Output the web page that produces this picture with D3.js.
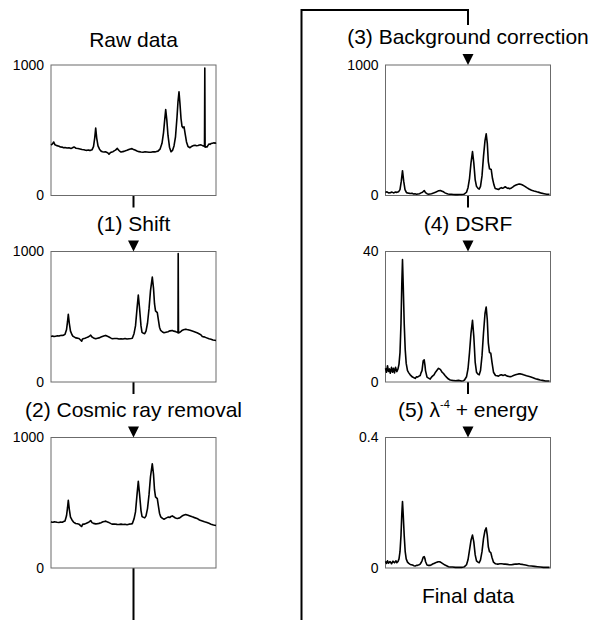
<!DOCTYPE html>
<html>
<head>
<meta charset="utf-8">
<script src="https://cdn.jsdelivr.net/npm/d3@7"></script>
<style>
  body { margin: 0; background: #fff; }
  svg { display: block; font-family: "Liberation Sans", Arial, sans-serif; }
</style>
</head>
<body>
<svg width="592" height="620"></svg>
<script>
// spectra, [channel, intensity]
let raw = [[0,387],[1.5,395],[2.7,410],[4,388],[6,382],[8,378],[9.5,372],[11,371],[12.5,366],[14,368],[16,364],[18,366],[20,361],[21,364],[23,372],[25,362],[27,360],[29,357],[31,353],[33,350],[34.5,347],[36,346],[37.5,349],[39,344],[41,350],[42.5,375],[43.7,440],[44.7,517],[45.7,440],[47,380],[48.5,355],[50,340],[51.5,336],[53,333],[54.5,335],[56,330],[57,325],[58,316],[59.5,330],[61,334],[62,336],[63.5,344],[64.5,348],[66.3,361],[68,345],[69,338],[70,333],[71.5,336],[73,338],[74.5,343],[76,346],[78.5,355],[81,359],[82.5,352],[84,348],[86,341],[88,336],[90,333],[92,332],[94,335],[96,333],[98,331],[100,332],[102,335],[104,334],[105.5,337],[107,340],[109,355],[111,400],[112.5,480],[113.7,580],[114.7,659],[115.8,580],[117,460],[118.5,370],[120,335],[121.5,345],[123,380],[124.5,450],[126,600],[127,720],[128,794],[129,700],[130,590],[131,530],[132,520],[133,527],[134,480],[135.5,410],[137,375],[139,366],[141,378],[142.5,383],[144,385],[145.5,381],[147,383],[148.5,387],[150,388],[152,380],[153.5,378],[153.8,977],[154.1,370],[155,374],[156,372],[157,384],[158,395],[159,392],[160,398],[161.5,401],[163,404],[164,400],[165,406]];

let shifted = [[0,349],[1.5,352],[3,348],[4.7,351],[6.5,354],[8,352],[9.5,356],[11.3,357],[12.7,359],[14,365],[15.5,400],[16.5,460],[17.3,519],[18.3,450],[19.5,390],[21,362],[22,350],[23.5,344],[24.7,338],[26.5,336],[28,333],[29.5,322],[30.7,313],[31.5,330],[33,333],[34,335],[35.5,340],[37,345],[38.5,352],[39.7,359],[41,345],[42.5,338],[44.7,331],[46.5,335],[48,338],[50,344],[52,350],[53.5,354],[54.7,357],[56.5,350],[58,345],[60,336],[61.3,331],[63.5,333],[66,333],[68,329],[70,332],[72,330],[74,333],[76,329],[78,331],[80,333],[81.3,335],[83,370],[84.5,430],[86,560],[87.3,667],[88.5,570],[90,430],[91,380],[92.5,373],[93.7,370],[95,390],[96.5,450],[98,560],[99.5,700],[101.3,804],[102.5,720],[103.5,600],[104.5,545],[106.3,532],[107.5,470],[108.5,420],[109.7,395],[111.5,383],[113,377],[115,381],[117,385],[119,392],[121.3,395],[122.5,390],[124,388],[125.3,384],[126.3,380],[127,378],[127.2,984],[127.5,375],[128.7,380],[130,388],[131,395],[132.5,400],[134.7,405],[136,402],[137,400],[139,396],[141.3,390],[144,383],[146,378],[148,370],[150,361],[151.3,349],[153,346],[155,340],[158,331],[160,328],[162,322],[163.5,320],[165,318]];

let noCosmic = [[0,354],[1,351],[2,350],[3.5,354],[4.7,353],[6,350],[8,349],[9.5,352],[11.3,351],[12.7,356],[14,360],[15.5,400],[16.5,460],[17.3,519],[18.3,450],[19.5,390],[21,368],[22.5,352],[24.7,341],[26.5,339],[28,336],[29.5,325],[30.7,318],[31.5,334],[33,336],[34,338],[35.5,343],[37,348],[38.5,356],[39.7,364],[41,348],[42.5,342],[44.7,338],[46.5,340],[48,342],[50,347],[52,354],[53.5,357],[54.7,359],[56.5,352],[58,348],[60,340],[61.3,336],[63.5,337],[66,334],[68,333],[70,336],[72,333],[74,335],[76,332],[78,336],[80,337],[81.3,340],[83,375],[84.5,430],[86,560],[87.3,664],[88.5,570],[90,440],[91,395],[92.5,388],[93.7,384],[95,400],[96.5,455],[98,560],[99.5,700],[101.3,799],[102.5,720],[103.5,600],[104.5,545],[106.3,532],[107.5,470],[108.5,420],[109.7,392],[111.5,380],[113,374],[115,382],[117,390],[119,388],[120,395],[121.3,399],[122.5,393],[124,385],[125.3,381],[126.3,379],[127.5,382],[128.7,384],[130,392],[131,398],[132.5,404],[134.7,410],[136,406],[137,405],[139,399],[141.3,392],[143.5,386],[146,380],[148.5,368],[151.3,360],[153.5,354],[156,348],[158,342],[160,336],[162.5,330],[165,326]];

let background = [[0,23],[1.5,28],[3,20],[5,22],[6.5,26],[8,20],[10,26],[11.5,24],[13,28],[14.5,45],[15.8,110],[17,190],[18.2,110],[19.5,45],[21,22],[23,18],[24.7,15],[26.5,17],[28,12],[29.5,13],[31,10],[32.5,12],[34,14],[35.5,20],[37,25],[38.7,38],[40,22],[41.5,14],[43,10],[44.5,12],[46,14],[48,19],[50,25],[51.5,30],[53,36],[55,38],[56.5,33],[58,28],[59.5,20],[61,15],[62.5,12],[64,10],[66,9],[68,8],[70,7],[72,7],[74,8],[76,8],[78,9],[79,12],[81,25],[82.5,60],[84,130],[85.5,250],[87,336],[88.3,250],[89.7,120],[91,70],[92.5,55],[93.7,49],[95,70],[96.5,150],[98,300],[99.5,420],[100.7,472],[101.8,400],[102.8,260],[104,205],[105.7,200],[107,130],[108.5,80],[109.7,54],[111.5,50],[113,46],[114.5,55],[116,60],[117,56],[118,58],[119,63],[119.7,67],[121,60],[122,55],[123,57],[124,52],[125.3,56],[126.3,60],[127.5,66],[129,75],[130.5,80],[132,85],[133.5,88],[134.7,87],[136,84],[137,80],[139,72],[141.3,60],[143.5,50],[146,40],[148.5,34],[151.3,28],[153.5,24],[156,18],[158.5,14],[161.3,10],[164,10]];

let dsrf = [[0,4.2],[1,3.0],[2,5.0],[3,3.2],[4,4.0],[4.7,2.7],[5.5,3.5],[6,4.5],[7,3.0],[8,4.2],[9,2.8],[10,4.5],[11.3,3.2],[12.5,4.0],[13.5,5.5],[14.5,9],[15.5,18],[16.3,30],[17,37.5],[17.7,30],[18.7,18],[19.7,10],[20.7,5.7],[22,3.5],[23.3,2.8],[24.7,2.2],[26,1.8],[27,1.5],[28.5,1.3],[29.7,1.1],[31,1.6],[32,1.5],[33.5,1.8],[34.7,2.0],[35.5,2.8],[36.5,3.5],[37.7,6.5],[38.7,6.8],[39.5,5.0],[40,3.5],[41.5,1.5],[43,1.2],[44.7,0.9],[46,1.5],[47,1.8],[48.5,2.2],[50,3.0],[51.5,3.6],[53,4.2],[54,4.0],[55,3.8],[56.5,3.0],[58,2.6],[59.5,2.0],[61,1.5],[63,0.9],[64.7,0.6],[67,0.5],[70,0.4],[73,0.5],[76,0.3],[78,0.4],[79,0.6],[81,1.6],[82.5,4],[84,9],[85.5,15],[87,18.9],[88.3,14],[89.7,6],[91,3],[92.5,2.4],[93.7,2.2],[95,3.5],[96.5,8],[98,15],[99.5,21],[100.7,23],[101.8,19],[102.8,12],[104,9],[105.3,8.8],[106.5,6],[108,3],[110,2.0],[111.5,1.9],[113,1.8],[114.5,2.1],[116,2.2],[117.5,2.0],[119.7,2.2],[121,1.9],[122,1.8],[123.5,1.7],[124.7,1.6],[126.5,1.8],[128,2.0],[130,2.2],[132,2.4],[133.5,2.5],[134.7,2.5],[136.5,2.4],[138,2.2],[141,1.9],[144.7,1.6],[147.5,1.3],[150,1.0],[152.5,0.8],[154.7,0.6],[157,0.5],[160,0.3],[162,0.3],[164,0.3]];

let finalData = [[0,0.020],[1,0.014],[2,0.022],[3,0.015],[4.5,0.020],[5.2,0.017],[6,0.013],[7.5,0.021],[8.3,0.018],[9,0.016],[10.5,0.022],[11.3,0.016],[12.5,0.020],[13.5,0.028],[14.5,0.050],[15.5,0.100],[16.3,0.165],[17,0.204],[17.7,0.165],[18.7,0.100],[19.7,0.050],[20.7,0.028],[22,0.018],[23.3,0.014],[24.7,0.011],[26,0.010],[27,0.009],[28.5,0.007],[29.7,0.006],[31,0.008],[32,0.008],[33.5,0.010],[34.7,0.012],[35.5,0.016],[36.5,0.022],[37.7,0.033],[38.7,0.035],[39.5,0.028],[40,0.020],[41.5,0.009],[43,0.008],[44.7,0.008],[46,0.010],[47,0.012],[48.5,0.014],[50,0.016],[51.5,0.018],[53,0.019],[54,0.019],[55,0.018],[56.5,0.015],[58,0.012],[59.5,0.009],[61,0.007],[63,0.004],[64.7,0.003],[67,0.003],[70,0.002],[73,0.002],[76,0.002],[78,0.003],[79,0.004],[81,0.010],[82.5,0.025],[84,0.055],[85.5,0.085],[87,0.101],[88.3,0.080],[89.7,0.040],[91,0.022],[92.5,0.018],[93.7,0.016],[95,0.025],[96.5,0.050],[98,0.090],[99.5,0.115],[100.7,0.123],[101.8,0.100],[102.8,0.065],[104,0.050],[105.3,0.047],[106.5,0.032],[108,0.018],[110,0.013],[111.5,0.012],[113,0.012],[114.5,0.013],[116,0.013],[118,0.012],[119.7,0.012],[122,0.011],[124,0.010],[126,0.010],[128,0.011],[130,0.012],[132,0.012],[133.5,0.013],[134.7,0.012],[137,0.011],[140,0.009],[143,0.007],[146,0.006],[149,0.005],[152,0.004],[155,0.003],[158,0.002],[161,0.002],[164,0.002]];

let spectra = [raw, shifted, noCosmic, background, dsrf, finalData];
let titles = ["Raw data", "(1) Shift", "(2) Cosmic ray removal", "(3) Background correction", "(4) DSRF", "(5) λ + energy"];
let yMax = [1000, 1000, 1000, 1000, 40, 0.4];

let $svg = d3.select("svg");

let w = 165, h = 130.5;
let colX = [51, 385.5];
let rowY = [65, 251.5, 437.5];

// one panel per spectrum: left column top-down, then right column top-down
let panels = spectra.map((d, i) => ({
    data: d,
    title: titles[i],
    max: yMax[i],
    left: colX[Math.floor(i / 3)],
    top: rowY[i % 3]
}));

let flow = $svg.append("g")
    .attr("fill", "none")
    .attr("stroke", "#000")
    .attr("stroke-width", 2);

panels.forEach(function(p, i) {
    let cx = p.left + w / 2;

    let x = d3.scaleLinear()
        .domain([0, 165])
        .range([p.left, p.left + w]);

    let y = d3.scaleLinear()
        .domain([0, p.max])
        .range([p.top + h, p.top]);

    let g = $svg.append("g");

    g.append("rect")
        .attr("x", p.left)
        .attr("y", p.top)
        .attr("width", w)
        .attr("height", h)
        .attr("fill", "none")
        .attr("stroke", "#6b6b6b")
        .attr("stroke-width", 1);

    let line = d3.line()
        .x(d => x(d[0]))
        .y(d => y(d[1]));

    g.append("path")
        .datum(p.data)
        .attr("d", line)
        .attr("fill", "none")
        .attr("stroke", "#000")
        .attr("stroke-width", 1.6)
        .attr("stroke-linejoin", "round");

    let axis = d3.axisLeft(y)
        .tickValues([0, p.max])
        .tickSize(0)
        .tickPadding(7)
        .tickFormat(d => String(d));

    g.append("g")
        .attr("transform", "translate(" + p.left + ",0)")
        .call(axis)
        .call(a => a.select(".domain").remove())
        .selectAll("text")
        .attr("font-size", 14)
        .attr("font-family", "Liberation Sans, Arial, sans-serif")
        .attr("fill", "#000");

    // step title (raw data sits a bit lower)
    let t = $svg.append("text")
        .attr("x", cx)
        .attr("y", p.top - (i == 0 ? 18 : 21))
        .attr("text-anchor", "middle")
        .attr("font-size", 21)
        .attr("fill", "#000");

    if (i == 5) {
        t.append("tspan").text("(5) λ");
        t.append("tspan").attr("font-size", 11).attr("dy", -9).text("-4");
        t.append("tspan").attr("dy", 9).text(" + energy");
    } else {
        t.text(p.title);
    }

    // arrow into the panel (not on the raw data one)
    if (i > 0) {
        $svg.append("path")
            .attr("d", "M" + (cx - 5.5) + "," + (p.top - 11) + "L" + (cx + 5.5) + "," + (p.top - 11) + "L" + cx + "," + p.top + "Z")
            .attr("fill", "#000");
    }

    // stub below the panel
    if (i != 2 && i != 5) {
        flow.append("path").attr("d", "M" + cx + "," + (p.top + h) + "V" + (p.top + h + 12));
    }
});

let cL = colX[0] + w / 2, cR = colX[1] + w / 2;

// long connector: down from the third panel, up the middle, over to step 3
flow.append("path").attr("d", "M" + cL + "," + (rowY[2] + h) + "V620");
flow.append("path").attr("d", "M301.5,620V10H" + cR + "V25");

$svg.append("text")
    .attr("x", cR)
    .attr("y", rowY[2] + h + 35)
    .attr("text-anchor", "middle")
    .attr("font-size", 21)
    .text("Final data");
</script>
</body>
</html>
